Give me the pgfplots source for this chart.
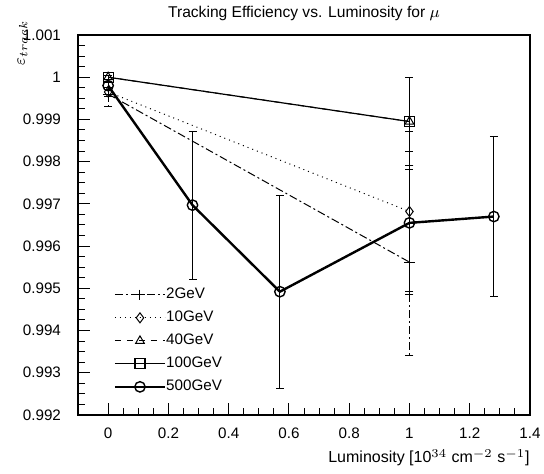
\documentclass[border=0pt]{standalone}
\usepackage{pgfplots}
\pgfplotsset{compat=1.18}
\usepackage{fontspec}
\setmainfont{Liberation Sans}
\usetikzlibrary{plotmarks}
\begin{document}
\begin{tikzpicture}
\begin{axis}[
  scale only axis, width=226pt, height=190pt,
  xmin=-0.1, xmax=1.4, ymin=0.992, ymax=1.001,
  axis line style={line width=0.6pt},
  xtick={0,0.2,0.4,0.6,0.8,1,1.2,1.4},
  xticklabels={0,0.2,0.4,0.6,0.8,1,1.2,1.4},
  ytick={0.992,0.993,0.994,0.995,0.996,0.997,0.998,0.999,1,1.001},
  yticklabels={0.992,0.993,0.994,0.995,0.996,0.997,0.998,0.999,1,1.001},
  minor x tick num=3, minor y tick num=3,
  xtick pos=bottom, ytick pos=left,
  tick align=inside,
  major tick length=6pt, minor tick length=3.5pt,
  tick style={line width=0.5pt, black},
  tick label style={font=\fontsize{7.6}{9}\selectfont},
  xticklabel style={yshift=-3pt},
  yticklabel style={xshift=-5pt},
  title={Tracking Efficiency vs. Luminosity for $\mu$},
  title style={at={(axis description cs:0.5,1)}, anchor=base, yshift=2.5pt, font=\fontsize{7.8}{9}\selectfont, inner sep=0pt},
  xlabel={Luminosity [10$^{34}$ cm$^{-2}$ s$^{-1}$]},
  xlabel style={at={(axis description cs:1,0)}, anchor=base east, yshift=-24pt, inner sep=0pt, font=\fontsize{8}{9}\selectfont},
  ylabel={$\varepsilon_{track}$},
  ylabel style={at={(axis description cs:-0.118,1.04)}, anchor=base east, inner sep=0pt, font=\fontsize{8}{9}\selectfont},
  legend cell align=left,
  legend style={at={(axis description cs:0.065,0.044)}, anchor=south west, draw=none, fill=none,
    font=\fontsize{7.6}{9}\selectfont, row sep=4.5pt,
    nodes={inner sep=0pt, text height=5.5pt, text depth=1.5pt, xshift=2pt}},
  legend image code/.code={\draw[#1,mark repeat=2,mark phase=2] plot coordinates {(0pt,0pt) (12.5pt,0pt) (25pt,0pt)};},
]
\coordinate (ll) at (rel axis cs:0,0);
\coordinate (ur) at (rel axis cs:1,1);
% 2 GeV
\addplot[black, line width=0.5pt, dash pattern=on 4pt off 1.5pt on 1pt off 1.5pt, mark=+, mark size=2.6pt, mark options={solid},
  error bars/.cd, y dir=both, y explicit, error mark options={solid, mark size=2pt, rotate=90}]
  coordinates {(0,0.99960) +- (0,0.00030) (1,0.99562) +- (0,0.00220)};
\addlegendentry{2GeV}
% 10 GeV
\addplot[black, line width=0.5pt, dotted, mark=diamond, mark size=2.5pt, mark options={solid},
  error bars/.cd, y dir=both, y explicit, error mark options={solid, mark size=2pt, rotate=90}]
  coordinates {(0,0.99965) +- (0,0.00010) (1,0.99682) +- (0,0.00190)};
\addlegendentry{10GeV}
% 40 GeV
\addplot[black, line width=0.5pt, dashed, mark=triangle, mark size=2.5pt, mark options={solid},
  error bars/.cd, y dir=both, y explicit, error mark options={solid, mark size=2pt, rotate=90}]
  coordinates {(0,1.00000) +- (0,0.00005) (1,0.99895) +- (0,0.00105)};
\addlegendentry{40GeV}
% 100 GeV
\addplot[black, line width=0.6pt, mark=square, mark size=2.5pt, mark options={solid},
  error bars/.cd, y dir=both, y explicit, error mark options={solid, mark size=2pt, rotate=90}]
  coordinates {(0,1.00000) +- (0,0.00005) (1,0.99895) +- (0,0.00105)};
\addlegendentry{100GeV}
% 500 GeV
\addplot[black, line width=1.2pt, mark=o, mark size=2.6pt, mark options={solid, line width=0.7pt},
  error bars/.cd, y dir=both, y explicit, error bar style={line width=0.4pt}, error mark options={solid, mark size=2pt, rotate=90, line width=0.4pt}]
  coordinates {(0,0.99980) +- (0,0.00008) (0.28,0.99697) +- (0,0.00175) (0.57,0.99492) +- (0,0.00228) (1,0.99655) +- (0,0.00170) (1.28,0.99670) +- (0,0.00190)};
\addlegendentry{500GeV}
\end{axis}
\pgfresetboundingbox
\path[use as bounding box] ([shift={(-39pt,-29.5pt)}]ll) rectangle ([shift={(7pt,17.5pt)}]ur);
\end{tikzpicture}
\end{document}
